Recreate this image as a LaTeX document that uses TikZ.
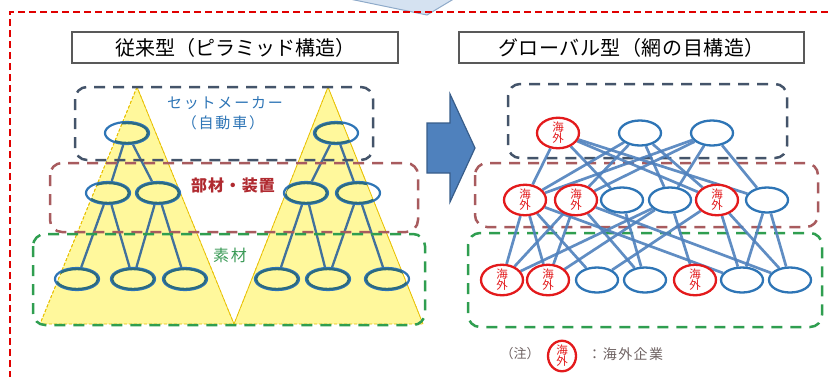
\documentclass[tikz,border=0pt]{standalone}
\usepackage{fontspec}
\setmainfont{Noto Sans CJK JP}
\usetikzlibrary{shapes.geometric}
\definecolor{nblue}{HTML}{2E75B6}
\definecolor{nteal}{HTML}{2B6A80}
\definecolor{nred}{HTML}{E31A1C}
\definecolor{eblue}{HTML}{4F81BD}
\definecolor{tedge}{HTML}{41719C}
\definecolor{slate}{HTML}{44546A}
\definecolor{rosy}{HTML}{A85B5E}
\definecolor{dgreen}{HTML}{2F9E50}
\definecolor{lred}{HTML}{B02A30}
\definecolor{lgreen}{HTML}{3B9A57}
\definecolor{tri}{HTML}{FFF24A}
\definecolor{trie}{HTML}{E8C000}
\definecolor{tgray}{HTML}{595959}
\definecolor{framered}{HTML}{E00000}
\definecolor{topfill}{HTML}{D5E2F1}
\definecolor{topedge}{HTML}{8EAAC9}
\definecolor{arrowfill}{HTML}{4F81BD}
\definecolor{arrowedge}{HTML}{385D8A}
\definecolor{legendgray}{HTML}{6E6262}
\pgfdeclarelayer{back}
\pgfdeclarelayer{edges}
\pgfsetlayers{back,edges,main}
\begin{document}
\begin{tikzpicture}[x=1pt,y=-1pt,
  treenode/.style={ellipse, draw=nblue, line width=2.2pt, minimum width=44pt, minimum height=22pt, inner sep=0pt},
  netnode/.style={ellipse, draw=nblue, fill=white, line width=2.3pt, minimum width=42pt, minimum height=25pt, inner sep=0pt},
  fnode/.style={netnode, draw=nred, text=nred, font=\fontsize{11.5}{11}\selectfont, align=center},
  treeedge/.style={draw=tedge, line width=2.3pt},
  netedge/.style={draw=eblue, line width=2.7pt, opacity=0.9},
  slatebox/.style={draw=slate, line width=2.5pt, dash pattern=on 11pt off 8pt, rounded corners=12pt},
  rosybox/.style={draw=rosy, line width=2.5pt, dash pattern=on 11pt off 8pt, rounded corners=12pt},
  greenbox/.style={draw=dgreen, line width=2.5pt, dash pattern=on 11pt off 8pt, rounded corners=12pt},
  titlebox/.style={draw=tgray, line width=1.4pt, inner sep=0pt, font=\fontsize{20}{22}\selectfont},
  tritri/.style={fill=tri, fill opacity=0.55, draw=trie, line width=0.8pt, dash pattern=on 3pt off 2pt},
  tealring/.style={draw=nteal, line width=2.2pt},
]
\useasboundingbox (0,0) rectangle (829,376);
% top partial shape
\fill[fill=topfill, draw=topedge, line width=1pt] (340,-3) -- (427,15) -- (457,-3) -- cycle;
% red frame
\draw[draw=framered, line width=2pt, dash pattern=on 7pt off 4pt] (10,378) -- (10,12) -- (832,12);
% titles
\node[titlebox, minimum width=326pt, minimum height=31pt] (title1) at (235,47.5) {従来型（ピラミッド構造）};
\node[titlebox, minimum width=345pt, minimum height=31pt] (title2) at (631.5,47.5) {\addfontfeature{LetterSpace=3}グローバル型（網の目構造）};

% ===== left pyramid =====
\fill[tritri] (137,87) -- (40,324) -- (234,324) -- cycle;
\fill[tritri] (328,87) -- (234,324) -- (423,324) -- cycle;
\draw[tritri, fill=none] (137,87) -- (40,324) (137,87) -- (234,324) -- (328,87) -- (423,324);
\node[treenode] (la) at (127,133) {};
\node[treenode] (lb1) at (108,193) {};
\node[treenode] (lb2) at (158,193) {};
\node[treenode] (lc1) at (77,279) {};
\node[treenode] (lc2) at (133,279) {};
\node[treenode] (lc3) at (185,279) {};
\node[treenode] (ra) at (336,133) {};
\node[treenode] (rb1) at (306,193) {};
\node[treenode] (rb2) at (358,193) {};
\node[treenode] (rc1) at (277,279) {};
\node[treenode] (rc2) at (328,279) {};
\node[treenode] (rc3) at (387,279) {};
\begin{scope}
\clip (137,87) -- (40,324) -- (234,324) -- (328,87) -- (423,324) -- (234,324) -- cycle;
\foreach \n in {la,lb1,lb2,lc1,lc2,lc3,ra,rb1,rb2,rc1,rc2,rc3}
  \draw[tealring] (\n.center) ellipse [x radius=20.9pt, y radius=9.9pt];
\end{scope}
\foreach \a/\b in {la/lb1, la/lb2, lb1/lc1, lb1/lc2, lb2/lc2, lb2/lc3,
                   ra/rb1, ra/rb2, rb1/rc1, rb1/rc2, rb2/rc2, rb2/rc3}
  \draw[treeedge] (\a) -- (\b);
\draw[slatebox] (75,87) rectangle (373,160);
\draw[rosybox] (50,163) rectangle (418,232);
\draw[greenbox] (33,234) rectangle (425,325);
\node[text=nblue, font=\fontsize{15}{18}\selectfont] (setmaker) at (225,103) {\addfontfeature{LetterSpace=12}セットメーカー};
\node[text=nblue, font=\fontsize{15}{18}\selectfont] (jidosha) at (223,123) {\addfontfeature{LetterSpace=12}（自動車）};
\node[text=lred, font=\fontsize{16}{18}\selectfont\bfseries] (buzai) at (233,185) {\addfontfeature{LetterSpace=6}部材・装置};
\node[text=lgreen, font=\fontsize{16}{18}\selectfont] (sozai) at (230,255) {\addfontfeature{LetterSpace=12}素材};

% ===== arrow =====
\draw[fill=arrowfill, draw=arrowedge, line width=1.2pt] (427,123) -- (450,123) -- (450,94) -- (475,148) -- (450,202) -- (450,173) -- (427,173) -- cycle;

% ===== right network =====
\begin{pgfonlayer}{back}
\draw[slatebox] (508,84) rectangle (787,158);
\draw[rosybox] (475,163) rectangle (818,227);
\draw[greenbox] (468,233) rectangle (822,327);
\end{pgfonlayer}
\node[fnode] (T1) at (558,133) {海\\外};
\node[netnode] (T2) at (640,133) {};
\node[netnode] (T3) at (712,133) {};
\node[fnode] (M1) at (525,200) {海\\外};
\node[fnode] (M2) at (576,200) {海\\外};
\node[netnode] (M3) at (622,200) {};
\node[netnode] (M4) at (670,200) {};
\node[fnode] (M5) at (717,200) {海\\外};
\node[netnode] (M6) at (767,200) {};
\node[fnode] (B1) at (502,280) {海\\外};
\node[fnode] (B2) at (548,280) {海\\外};
\node[netnode] (B3) at (597,280) {};
\node[netnode] (B4) at (645,280) {};
\node[fnode] (B5) at (695,280) {海\\外};
\node[netnode] (B6) at (742,280) {};
\node[netnode] (B7) at (790,280) {};
\begin{pgfonlayer}{edges}
\foreach \a/\b in {T1/M1, T1/M3, T1/M5, T1/M6,
                   T2/M1, T2/M2, T2/M4, T2/M5,
                   T3/M1, T3/M2, T3/M4, T3/M6,
                   M1/B1, M1/B2, M1/B3, M1/B6,
                   M2/B1, M2/B2, M2/B4, M2/B7,
                   M3/B4,
                   M4/B1, M4/B2, M4/B5,
                   M5/B3, M5/B6, M5/B7,
                   M6/B6, M6/B7}
  \draw[netedge] (\a) -- (\b);
\end{pgfonlayer}

% ===== legend =====
\node[text=legendgray, font=\fontsize{13}{15}\selectfont] (note) at (520,354) {（注）};
\node[fnode, minimum width=28pt, minimum height=28pt] (legendnode) at (562,356) {海\\外};
\node[text=legendgray, font=\fontsize{14}{16}\selectfont, anchor=west] (legendtext) at (584,354) {\addfontfeature{LetterSpace=10}：海外企業};
\end{tikzpicture}
\end{document}
